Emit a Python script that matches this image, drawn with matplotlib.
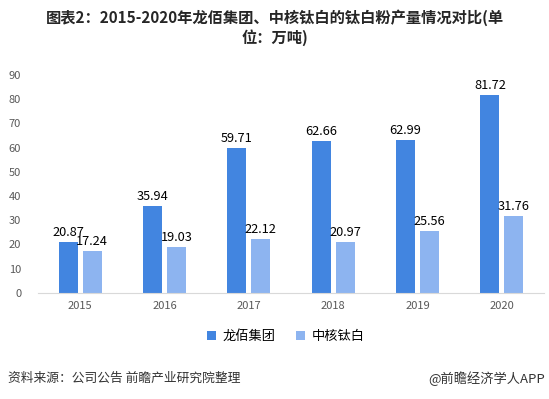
import numpy as np
import matplotlib.pyplot as plt

plt.rcParams['font.family'] = ['Noto Sans CJK SC', 'DejaVu Sans']

years = ['2015', '2016', '2017', '2018', '2019', '2020']
longbai = [20.87, 35.94, 59.71, 62.66, 62.99, 81.72]
zhonghe = [17.24, 19.03, 22.12, 20.97, 25.56, 31.76]

c1 = '#4285e0'
c2 = '#8db4f0'

fig = plt.figure(figsize=(5.49, 3.99), dpi=100)
ax = fig.add_axes([0.069, 0.266, 0.922, 0.546])

x = np.arange(len(years))
w = 0.225
b1 = ax.bar(x - w / 2 - 0.03, longbai, w, color=c1, label='龙佰集团')
b2 = ax.bar(x + w / 2 + 0.03, zhonghe, w, color=c2, label='中核钛白')
for bars in (b1, b2):
    for r in bars:
        ax.text(r.get_x() + r.get_width() / 2, r.get_height() + 1.2, '%.2f' % r.get_height(),
                ha='center', va='bottom', fontsize=9.2, color='#000000')

ax.set_xlim(-0.5, len(years) - 0.5)
ax.set_ylim(0, 90)
ax.set_yticks(range(0, 91, 10))
ax.set_xticks(x)
ax.set_xticklabels(years)
for s in ['top', 'right', 'left']:
    ax.spines[s].set_visible(False)
ax.spines['bottom'].set_color('#d9d9d9')
ax.tick_params(axis='both', length=0, labelsize=8, labelcolor='#595959')
ax.tick_params(axis='y', pad=12)
ax.tick_params(axis='x', pad=6)

ax.legend(loc='upper center', bbox_to_anchor=(0.49, -0.115), ncol=2, frameon=False,
          fontsize=9.5, handlelength=0.7, handleheight=0.7, columnspacing=1.5, handletextpad=0.5)

fig.text(0.5, 0.955, '图表2：2015-2020年龙佰集团、中核钛白的钛白粉产量情况对比(单',
         ha='center', va='center', fontsize=11, fontweight='bold', color='#262626')
fig.text(0.5, 0.905, '位：万吨)', ha='center', va='center', fontsize=11,
         fontweight='bold', color='#262626')
fig.text(0.015, 0.052, '资料来源：公司公告 前瞻产业研究院整理', ha='left', va='center',
         fontsize=9.2, color='#333333')
fig.text(0.993, 0.052, '@前瞻经济学人APP', ha='right', va='center', fontsize=9.5,
         color='#333333')

fig.savefig('out.png', dpi=100)
